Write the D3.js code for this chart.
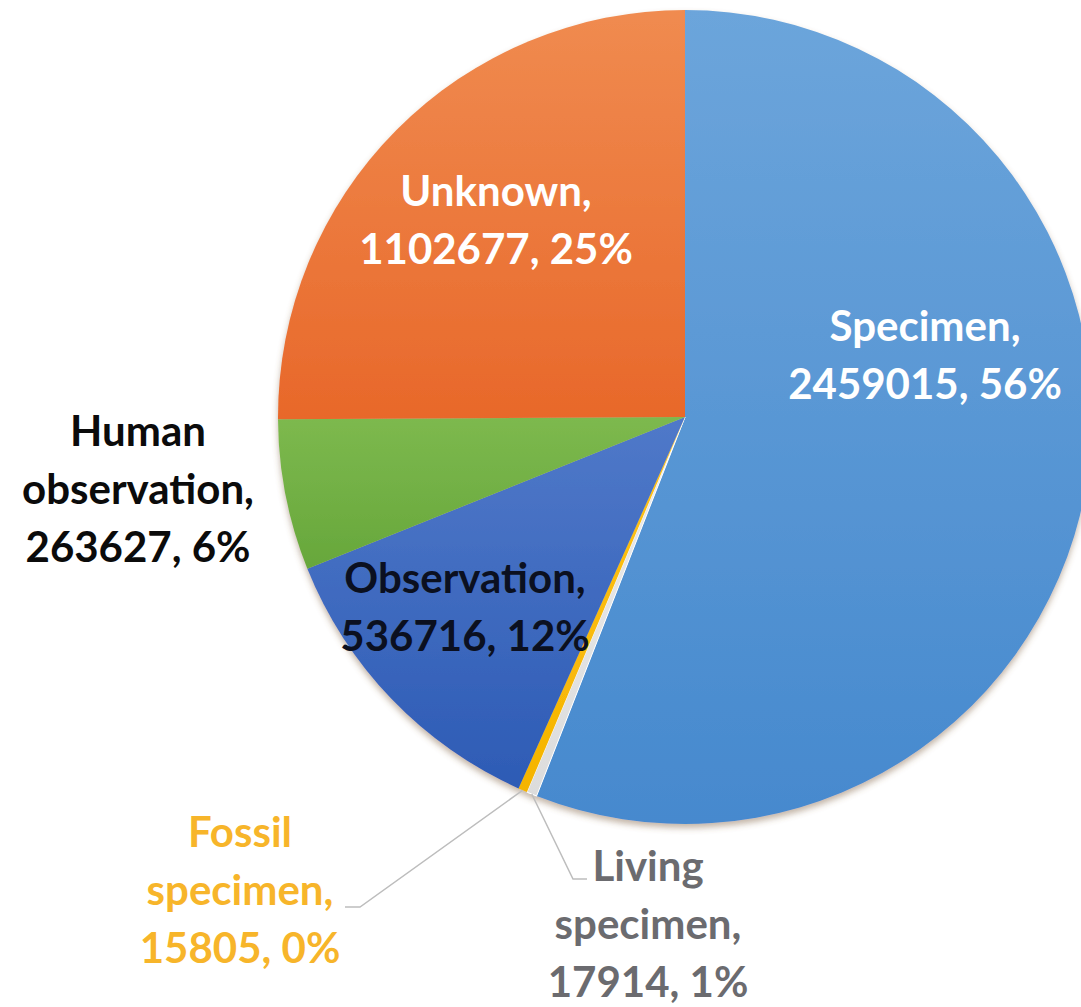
<!DOCTYPE html>
<meta charset="utf-8">
<script src="https://d3js.org/d3.v7.min.js"></script>
<style>
  body { margin: 0; background: #fff; }
  text { font-family: Lato, "Open Sans", sans-serif; font-weight: bold; }
</style>
<div id="my_dataviz"></div>
<script>

// data, in the order Excel draws it (clockwise from 12 o'clock)
var categories = ["Specimen", "Living specimen", "Fossil specimen", "Observation", "Human observation", "Unknown"];
var counts = [2459015, 17914, 15805, 536716, 263627, 1102677];
var percents = ["56%", "1%", "0%", "12%", "6%", "25%"];
var labelLines = [
  ["Specimen,", "2459015, 56%"],
  ["Living", "specimen,", "17914, 1%"],
  ["Fossil", "specimen,", "15805, 0%"],
  ["Observation,", "536716, 12%"],
  ["Human", "observation,", "263627, 6%"],
  ["Unknown,", "1102677, 25%"]
];

// look
var width = 1081, height = 1007;
var cx = 685, cy = 417, radius = 407;
var colTop = ["#6ca5db", "#ececec", "#ffc31a", "#5079c9", "#7db94e", "#f08b50"];
var colBot = ["#4689ce", "#dcdcdc", "#f5b400", "#2d5bb5", "#67a73b", "#e8682a"];
var textCol = ["#ffffff", "#6b6b6f", "#f7b52a", "#0b1020", "#0b0b0b", "#ffffff"];
// label block centre, relative to pie centre
var labelOff = [[240, -62], [-37, 507], [-445, 473], [-220, 190], [-547, 72], [-189, -197]];
// leader line elbow / end, relative to pie centre (only outside labels)
var leader = {1: [[-112, 462], [-98, 462]], 2: [[-325, 490], [-340, 490]]};
var lineH = 58, fontSize = 42;

var svg = d3.select("#my_dataviz")
  .append("svg")
    .attr("width", width)
    .attr("height", height);

var defs = svg.append("defs");
categories.forEach(function(c, i) {
  var g = defs.append("linearGradient")
      .attr("id", "grad" + i)
      .attr("x1", 0).attr("y1", 0).attr("x2", 0).attr("y2", 1);
  g.append("stop").attr("offset", "0%").attr("stop-color", colTop[i]);
  g.append("stop").attr("offset", "100%").attr("stop-color", colBot[i]);
});
var f = defs.append("filter").attr("id", "shadow")
    .attr("x", "-10%").attr("y", "-10%").attr("width", "120%").attr("height", "120%");
f.append("feGaussianBlur").attr("in", "SourceAlpha").attr("stdDeviation", 3).attr("result", "b");
f.append("feOffset").attr("dy", 4).attr("result", "o");
f.append("feFlood").attr("flood-color", "#7a5a3a").attr("flood-opacity", 0.45);
f.append("feComposite").attr("in2", "o").attr("operator", "in");
f.append("feMerge").selectAll("feMergeNode").data([null, "SourceGraphic"]).enter()
  .append("feMergeNode").attr("in", function(d) { return d; });

var pie = d3.pie().sort(null).value(function(d) { return d; });
var arcs = pie(counts);
var arc = d3.arc().innerRadius(0).outerRadius(radius);

var g = svg.append("g").attr("transform", "translate(" + cx + "," + cy + ")");

g.append("g").attr("filter", "url(#shadow)")
  .selectAll("path")
  .data(arcs)
  .enter()
  .append("path")
    .attr("d", arc)
    .style("fill", function(d, i) { return "url(#grad" + i + ")"; })
    .style("stroke", function(d, i) { return i == 1 ? "#ffffff" : "none"; })
    .style("stroke-width", 1);

// leader lines for the thin slices
arcs.forEach(function(d, i) {
  if (!leader[i]) return;
  var a = (d.startAngle + d.endAngle) / 2;
  var p0 = [radius * Math.sin(a), -radius * Math.cos(a)];
  g.append("path")
    .attr("d", d3.line()([p0].concat(leader[i])))
    .style("fill", "none")
    .style("stroke", "#bdbdbd")
    .style("stroke-width", 1.5);
});

// labels
var lab = g.selectAll("text.lab")
  .data(arcs)
  .enter()
  .append("text")
    .attr("class", "lab")
    .attr("text-anchor", "middle")
    .attr("font-size", fontSize)
    .style("fill", function(d, i) { return textCol[i]; })
    .attr("transform", function(d, i) {
      return "translate(" + labelOff[i][0] + "," + labelOff[i][1] + ")";
    });

lab.each(function(d, i) {
  var lines = labelLines[i];
  var y0 = -(lines.length - 1) * lineH / 2;
  d3.select(this).selectAll("tspan")
    .data(lines)
    .enter()
    .append("tspan")
      .attr("x", 0)
      .attr("y", function(t, k) { return y0 + k * lineH; })
      .attr("dy", "0.35em")
      .text(function(t) { return t; });
});

</script>
